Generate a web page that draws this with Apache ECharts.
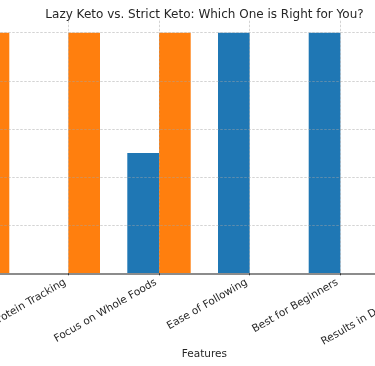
<!DOCTYPE html>
<html>
<head>
<meta charset="utf-8">
<script src="https://cdn.jsdelivr.net/npm/echarts@6/dist/echarts.min.js"></script>
<style>html,body{margin:0;padding:0;background:#fff}#c{width:375px;height:366px}</style>
</head>
<body>
<div id="c"></div>
<script>
var categories = ["Carb Counting", "Protein Tracking", "Focus on Whole Foods", "Ease of Following", "Best for Beginners", "Results in Deep Ketosis"];
var lazyKeto = [1, 0, 0.5, 1, 1, 0];
var strictKeto = [1, 1, 1, 0, 0, 1];
var yTicks = [0, 0.2, 0.4, 0.6, 0.8, 1.0];

var chart = echarts.init(document.getElementById('c'), null, {renderer: 'canvas'});
var font = 'DejaVu Sans';
var gridLine = {show: true, showMaxLine: false, lineStyle: {color: 'rgba(165,165,165,0.6)', type: [2.5, 1.5], width: 0.8}};
chart.setOption({
  animation: false,
  title: {
    text: 'Lazy Keto vs. Strict Keto: Which One is Right for You?',
    left: 199.5, textAlign: 'center', top: 4,
    textStyle: {fontFamily: font, fontSize: 12, fontWeight: 'normal', color: '#262626'}
  },
  grid: {left: -67.75, width: 544.2, top: 20.7, bottom: 92.7, containLabel: false, outerBoundsMode: 'none'},
  xAxis: {
    type: 'category', data: categories, z: 5,
    name: 'Features', nameLocation: 'middle', nameGap: 75, nameMoveOverlap: false,
    nameTextStyle: {fontFamily: font, fontSize: 10.5, color: '#262626'},
    axisLine: {lineStyle: {color: '#8c8c8c', width: 1.8}},
    axisTick: {show: true, alignWithLabel: true, length: 2, lineStyle: {color: '#333'}},
    axisLabel: {rotate: 30, margin: 6.5, padding: [0, 3.5, 0, 0], fontFamily: font, fontSize: 10.5, color: '#262626', interval: 0},
    splitLine: Object.assign({alignWithLabel: true, interval: 0}, gridLine)
  },
  yAxis: {
    type: 'value', min: 0, max: 1.05, interval: 0.2, z: 5,
    axisLine: {show: false}, axisTick: {show: false},
    axisLabel: {show: false},
    splitLine: gridLine
  },
  series: [
    {name: 'Lazy Keto', type: 'bar', data: lazyKeto, barWidth: 31.7, barGap: '0%',
     itemStyle: {color: '#1f77b4'}},
    {name: 'Strict Keto', type: 'bar', data: strictKeto, barWidth: 31.7, barGap: '0%',
     itemStyle: {color: '#ff7f0e'}}
  ]
});
</script>
</body>
</html>
